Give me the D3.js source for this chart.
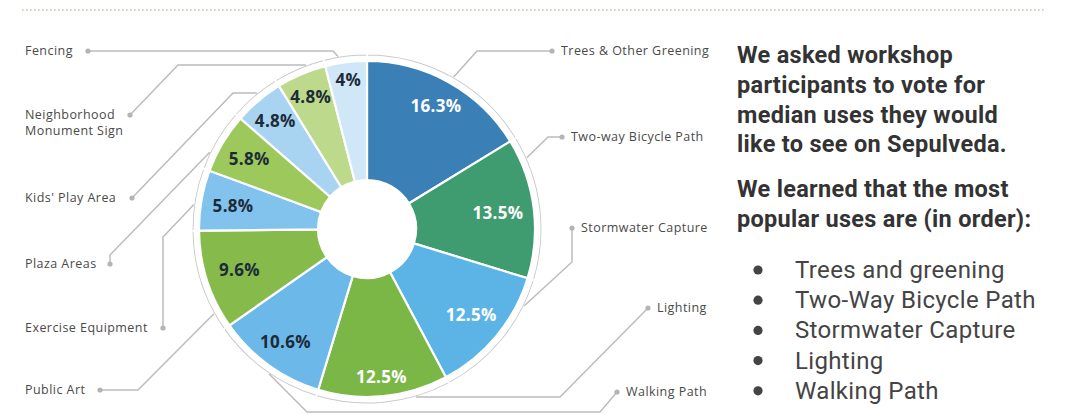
<!DOCTYPE html>
<html>
<head>
  <meta charset="utf-8">
  <title>Median uses on Sepulveda</title>
</head>
<style>
  body { margin: 0; background: #fff; }
  .pct { font-family: "Open Sans", sans-serif; font-weight: 700; font-size: 17px; letter-spacing: 0.3px; }
  .cat { font-family: "Open Sans", sans-serif; font-size: 12.5px; letter-spacing: 0.45px; fill: #4a4a4a; }
  .leader { fill: none; stroke: #bcbcbc; stroke-width: 1.5; }
  .head { font-family: Roboto, sans-serif; font-weight: 700; font-size: 23.5px; letter-spacing: 0.3px; fill: #333; }
  .item { font-family: Roboto, sans-serif; font-size: 24px; letter-spacing: 0.35px; fill: #444; }
</style>
<body>
  <svg width="1072" height="415"></svg>
  <script src="https://cdn.jsdelivr.net/npm/d3@7"></script>
  <script>
    // slices, clockwise from 12 o'clock
    var categories = ["Trees & Other Greening", "Two-way Bicycle Path", "Stormwater Capture",
      "Lighting", "Walking Path", "Public Art", "Exercise Equipment", "Plaza Areas",
      "Kids' Play Area", "Neighborhood Monument Sign", "Fencing"];
    var shares = [16.3, 13.5, 12.5, 12.5, 10.6, 9.6, 5.8, 5.8, 4.8, 4.8, 4];
    var colors = ["#3a80b6", "#3f9b70", "#5cb4e6", "#7bb747", "#6cb9e9", "#86bb4b",
      "#82c3ed", "#9dc85c", "#a8d4f1", "#bcd98c", "#d0e7f8"];

    var introLines = ["We asked workshop", "participants to vote for",
      "median uses they would", "like to see on Sepulveda."];
    var learnedLines = ["We learned that the most", "popular uses are (in order):"];
    var topUses = ["Trees and greening", "Two-Way Bicycle Path", "Stormwater Capture",
      "Lighting", "Walking Path"];

    var svg = d3.select("svg");
    var cx = 367, cy = 229, R = 168, r0 = 49, ringR = 174;

    // dotted rule at the top
    svg.append("line")
      .attr("x1", 22).attr("x2", 1045).attr("y1", 10).attr("y2", 10)
      .attr("stroke", "#c4c7aa").attr("stroke-width", 1.6)
      .attr("stroke-dasharray", "1.6 2.4");

    var pie = d3.pie().sort(null).value(function(d) { return d; });
    var arcs = pie(shares);

    var arc = d3.arc().innerRadius(r0).outerRadius(R);
    var ring = d3.arc().innerRadius(ringR - 1.2).outerRadius(ringR + 1.2);

    var g = svg.append("g").attr("transform", "translate(" + cx + "," + cy + ")");

    g.selectAll(".ring")
      .data(arcs)
      .enter().append("path")
      .attr("class", "ring")
      .attr("d", ring)
      .attr("fill", "#c9c9c9")
      .attr("stroke", "#fff")
      .attr("stroke-width", 1.5);

    g.selectAll(".slice")
      .data(arcs)
      .enter().append("path")
      .attr("class", "slice")
      .attr("d", arc)
      .attr("fill", function(d, i) { return colors[i]; })
      .attr("stroke", "#fff")
      .attr("stroke-width", 2.2);

    // percentage labels sit at different depths in the original
    var pctRadius = [141, 132, 135, 149, 139, 134, 136, 137, 142, 144, 150];
    g.selectAll(".pct")
      .data(arcs)
      .enter().append("text")
      .attr("class", "pct")
      .attr("text-anchor", "middle")
      .attr("dy", "0.36em")
      .attr("transform", function(d, i) {
        var c = d3.arc().innerRadius(pctRadius[i]).outerRadius(pctRadius[i]).centroid(d);
        return "translate(" + c + ")";
      })
      .attr("fill", function(d, i) { return i < 4 ? "#fff" : "#1d2b38"; })
      .text(function(d) { return d.value + "%"; });

    // leader layout: dot next to the label, bends, end angle on the ring (deg)
    var leaders = [
      { side: "r", dot: [552, 51], bends: [[477, 51]], end: 29.7 },
      { side: "r", dot: [562, 137], bends: [[548, 137]], end: 66 },
      { side: "r", dot: [572, 228], bends: [[572, 262]], end: 116 },
      { side: "r", dot: [648, 308], bends: [[560, 397]], end: 163.7 },
      { side: "r", dot: [617, 392], bends: [[600, 412], [307, 412]], end: 214 },
      { side: "l", dot: [100, 390], bends: [[138, 390]], end: 241 },
      { side: "l", dot: [163, 328], bends: [[163, 237]], end: 278 },
      { side: "l", dot: [110, 264], bends: [[110, 255]], end: 296 },
      { side: "l", dot: [132, 198], bends: [[233, 93]], end: 321 },
      { side: "l", dot: [130, 115], bends: [[178, 65]], end: 339.6 },
      { side: "l", dot: [88, 51], bends: [[333, 51]], end: 350.5 }
    ];

    function ringPoint(deg) {
      var a = deg * Math.PI / 180;
      return [cx + (ringR + 1) * Math.sin(a), cy - (ringR + 1) * Math.cos(a)];
    }

    var line = d3.line();
    svg.selectAll(".leader")
      .data(leaders)
      .enter().append("path")
      .attr("class", "leader")
      .attr("d", function(d) {
        return line([d.dot].concat(d.bends, [ringPoint(d.end)]));
      });

    svg.selectAll(".dot")
      .data(leaders)
      .enter().append("circle")
      .attr("cx", function(d) { return d.dot[0]; })
      .attr("cy", function(d) { return d.dot[1]; })
      .attr("r", 2.6)
      .attr("fill", "#b4b4b4");

    svg.selectAll(".cat")
      .data(leaders)
      .enter().append("text")
      .attr("class", "cat")
      .attr("x", function(d) { return d.side === "r" ? d.dot[0] + 9 : 25; })
      .attr("y", function(d) { return d.dot[1]; })
      .each(function(d, i) {
        var words = categories[i] === "Neighborhood Monument Sign"
          ? ["Neighborhood", "Monument Sign"] : [categories[i]];
        var t = d3.select(this);
        words.forEach(function(w, k) {
          t.append("tspan")
            .attr("x", t.attr("x"))
            .attr("dy", k === 0 ? "0.35em" : "1.25em")
            .text(w);
        });
      });

    // text block on the right
    var head = svg.append("g");
    head.selectAll("text.intro")
      .data(introLines)
      .enter().append("text")
      .attr("class", "head")
      .attr("x", 737)
      .attr("y", function(d, i) { return 63 + i * 29.8; })
      .text(function(d) { return d; });

    head.selectAll("text.learn")
      .data(learnedLines)
      .enter().append("text")
      .attr("class", "head")
      .attr("x", 737)
      .attr("y", function(d, i) { return 197 + i * 29.5; })
      .text(function(d) { return d; });

    var list = svg.append("g");
    list.selectAll("circle")
      .data(topUses)
      .enter().append("circle")
      .attr("cx", 758)
      .attr("cy", function(d, i) { return 270 + i * 30.2; })
      .attr("r", 4.6)
      .attr("fill", "#444");

    list.selectAll("text")
      .data(topUses)
      .enter().append("text")
      .attr("class", "item")
      .attr("x", 795)
      .attr("y", function(d, i) { return 278 + i * 30.2; })
      .text(function(d) { return d; });
  </script>
</body>
</html>
